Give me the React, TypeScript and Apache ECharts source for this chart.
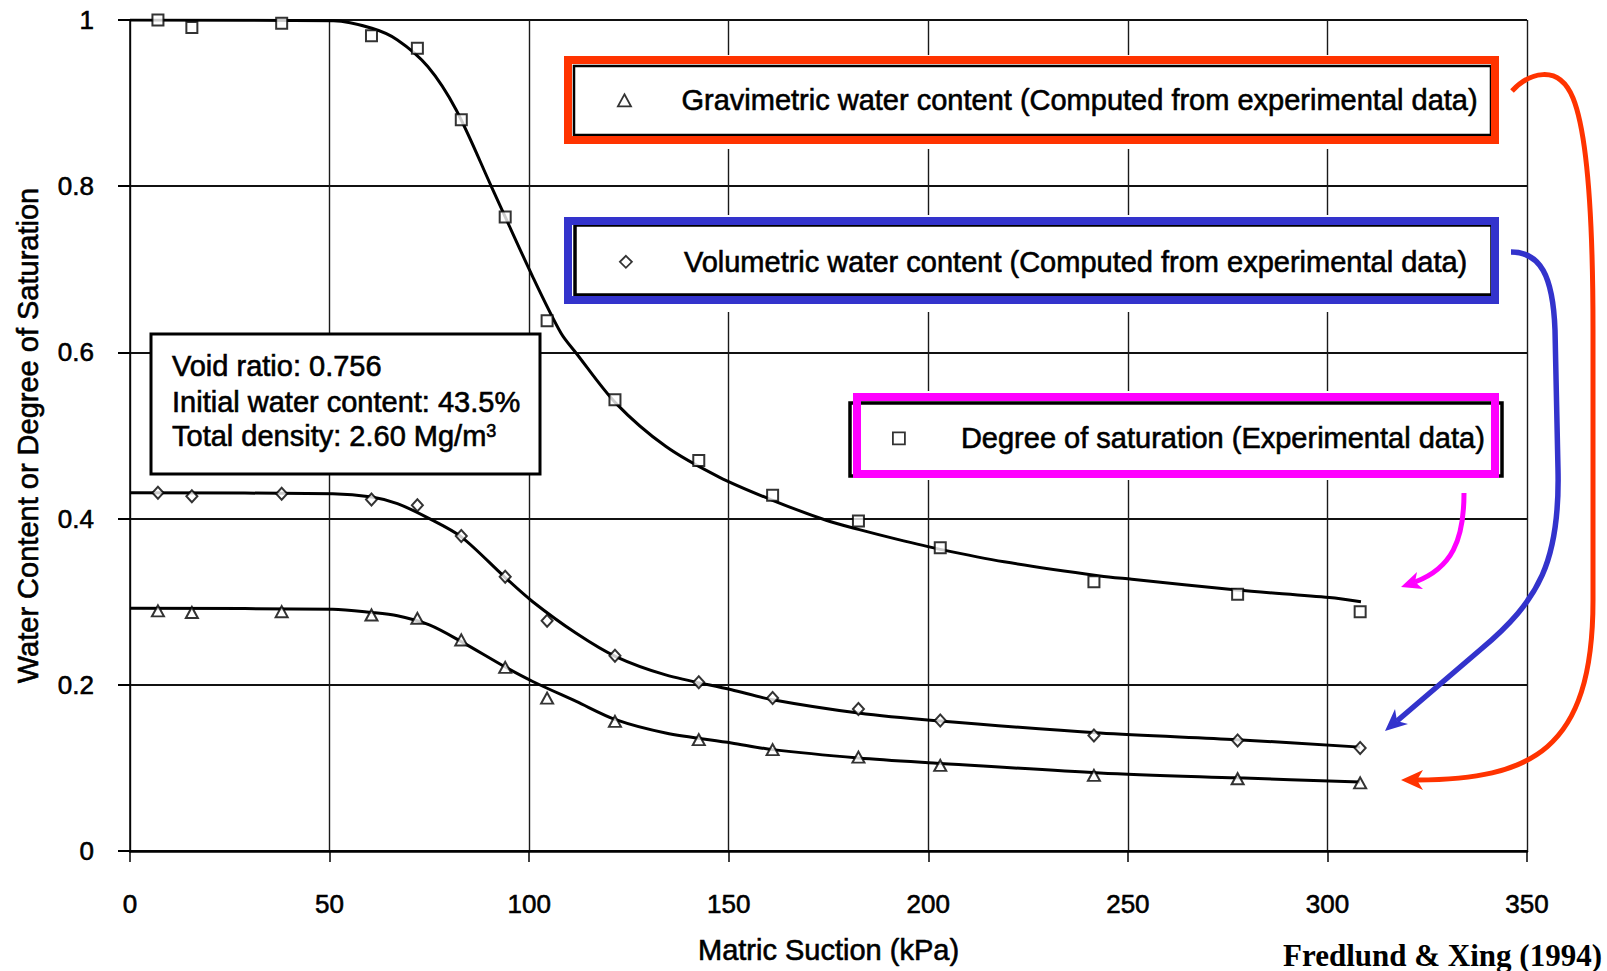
import React, { useEffect, useRef } from 'react';
import * as echarts from 'echarts';

// ---------- data ----------
const suction = [7, 15.5, 38, 60.5, 72, 83, 94, 104.5, 121.5, 142.5, 161, 182.5, 203, 241.5, 277.5, 308.2];
const degreeOfSaturation = [1.0, 0.991, 0.996, 0.981, 0.966, 0.88, 0.763, 0.638, 0.543, 0.47, 0.428, 0.397, 0.365, 0.324, 0.309, 0.288];
const volumetricWC = [0.431, 0.427, 0.43, 0.423, 0.416, 0.379, 0.33, 0.277, 0.235, 0.203, 0.184, 0.171, 0.157, 0.139, 0.133, 0.124];
const gravimetricWC = [0.289, 0.287, 0.288, 0.284, 0.28, 0.254, 0.221, 0.184, 0.156, 0.134, 0.122, 0.113, 0.103, 0.091, 0.087, 0.082];

// fitted curves (Fredlund & Xing)
const satFitX = [0, 51, 60.6, 67, 74.6, 81.7, 90.6, 100.9, 108, 111.8, 121.7, 134.2, 147.6, 161, 174.4, 182.5, 192.3, 203, 219, 243, 251, 277.3, 300.5, 308.4];
const satFitY = [1.0, 0.999, 0.99, 0.976, 0.944, 0.892, 0.799, 0.691, 0.623, 0.599, 0.539, 0.487, 0.45, 0.422, 0.398, 0.387, 0.375, 0.363, 0.348, 0.331, 0.327, 0.314, 0.305, 0.3];
const volFitX = [0, 50.8, 60.6, 67, 75, 83, 93.8, 100.9, 111.8, 121.7, 134.2, 150.7, 161, 182.5, 201.3, 243, 277.3, 308.2];
const volFitY = [0.431, 0.43, 0.426, 0.418, 0.4, 0.378, 0.33, 0.3, 0.262, 0.234, 0.212, 0.194, 0.182, 0.166, 0.157, 0.142, 0.134, 0.125];
const gravFitX = [0, 50.8, 60.6, 67, 75, 83, 93.8, 100.9, 111.8, 121.7, 134.2, 150.7, 161, 182.5, 201.3, 243, 277.3, 308.2];
const gravFitY = [0.292, 0.291, 0.287, 0.283, 0.272, 0.252, 0.222, 0.204, 0.18, 0.158, 0.142, 0.13, 0.122, 0.112, 0.106, 0.094, 0.088, 0.083];

const xTickValues = [0, 50, 100, 150, 200, 250, 300, 350];
const yTickValues = [0, 0.2, 0.4, 0.6, 0.8, 1];

const GRAV_NAME = 'Gravimetric water content (Computed from experimental data)';
const VOL_NAME = 'Volumetric water content (Computed from experimental data)';
const SAT_NAME = 'Degree of saturation (Experimental data)';

const infoLines = ['Void ratio: 0.756', 'Initial water content: 43.5%', 'Total density: 2.60 Mg/m{sup|3}'];
const sourceText = 'Fredlund & Xing (1994)';

// ---------- styling / annotation shapes ----------
const FONT = 'Liberation Sans';
const RED = '#FF3300';
const BLUE = '#3333CC';
const MAGENTA = '#FF00FF';
const INK = { textBorderColor: '#000', textBorderWidth: 0.6 };

const RED_ARROW = 'M1512,91 C1528,74 1558,62 1573,98 C1586,130 1593,210 1593,330 L1593,600 C1593,752 1530,779 1417,780';
const BLUE_ARROW = 'M1511,252 C1540,252 1553,275 1555,330 L1558,470 C1560,560 1540,600 1480,650 L1397,721';
const MAGENTA_ARROW = 'M1464,493 C1464,540 1452,568 1415,582';

echarts.graphic.registerShape('arrowRedLine', echarts.graphic.extendPath(RED_ARROW, {}));
echarts.graphic.registerShape('arrowBlueLine', echarts.graphic.extendPath(BLUE_ARROW, {}));
echarts.graphic.registerShape('arrowMagentaLine', echarts.graphic.extendPath(MAGENTA_ARROW, {}));

const TRI_ICON = 'path://M6,0L12,11L0,11Z';
const DIA_ICON = 'path://M6,0L12,6L6,12L0,6Z';
const SQ_ICON = 'path://M0,0L11,0L11,11L0,11Z';

const zip = (xs: number[], ys: number[]) => xs.map((x, i) => [x, ys[i]]);

function buildOption(): any {
  const fitLine = (name: string, xs: number[], ys: number[]) => ({
    type: 'line',
    name,
    data: zip(xs, ys),
    smooth: 0.3,
    symbol: 'none',
    showSymbol: false,
    silent: true,
    lineStyle: { color: '#000', width: 3 },
    z: 2,
  });
  const pointStyle = { color: '#fff', borderColor: '#000', borderWidth: 2 };
  // legend content bounding box starts at the icon itself, so "left" is the icon's left edge
  const legendBase = (name: string, icon: string, iconCenterX: number, iconCenterY: number, textStartX: number) => ({
    data: [{ name, icon }],
    left: iconCenterX - 6,
    top: iconCenterY - 14.5,
    orient: 'horizontal',
    itemWidth: (textStartX - iconCenterX - 5) * 2,
    itemHeight: 12,
    padding: 0,
    selectedMode: false,
    z: 20,
    textStyle: { fontSize: 29, lineHeight: 29, color: '#000', fontFamily: FONT, ...INK },
    itemStyle: { color: '#fff', borderColor: '#000', borderWidth: 1.8 },
  });

  const infoText = (text: string, y: number) => ({
    type: 'text',
    x: 172,
    y,
    z: 11,
    style: {
      text,
      fontSize: 29,
      fontFamily: FONT,
      fill: '#000',
      stroke: '#000',
      lineWidth: 0.6,
      align: 'left',
      verticalAlign: 'middle',
      textAlign: 'left',
      textVerticalAlign: 'middle',
      rich: { sup: { fontSize: 18, fontFamily: FONT, fill: '#000', verticalAlign: 'top' } },
    },
  });

  return {
    animation: false,
    backgroundColor: '#fff',
    textStyle: { fontFamily: FONT, color: '#000' },
    grid: { left: 130, right: 80, top: 20, bottom: 120, containLabel: false, outerBoundsMode: 'none' },
    xAxis: {
      type: 'value',
      min: xTickValues[0],
      max: xTickValues[xTickValues.length - 1],
      interval: xTickValues[1] - xTickValues[0],
      name: 'Matric Suction (kPa)',
      nameLocation: 'middle',
      nameGap: 84,
      nameTextStyle: { fontSize: 29, color: '#000', fontFamily: FONT, ...INK },
      axisLine: { show: true, onZero: false, lineStyle: { color: '#000', width: 2.5 } },
      axisTick: { show: true, inside: false, length: 11, lineStyle: { color: '#000', width: 1.5 } },
      axisLabel: { fontSize: 26, color: '#000', margin: 40, fontFamily: FONT, ...INK },
      splitLine: { show: true, lineStyle: { color: '#1a1a1a', width: 1.4 } },
    },
    yAxis: {
      type: 'value',
      min: yTickValues[0],
      max: yTickValues[yTickValues.length - 1],
      interval: yTickValues[1] - yTickValues[0],
      name: 'Water Content or Degree of Saturation',
      nameLocation: 'middle',
      nameGap: 88,
      nameTextStyle: { fontSize: 29, color: '#000', fontFamily: FONT, ...INK },
      axisLine: { show: true, onZero: false, lineStyle: { color: '#000', width: 1.5 } },
      axisTick: { show: true, inside: false, length: 12, lineStyle: { color: '#000', width: 2 } },
      axisLabel: { fontSize: 26, color: '#000', margin: 36, fontFamily: FONT, ...INK },
      splitLine: { show: true, lineStyle: { color: '#111', width: 2 } },
    },
    legend: [
      legendBase(GRAV_NAME, TRI_ICON, 623, 100, 680),
      legendBase(VOL_NAME, DIA_ICON, 625, 261.5, 683),
      legendBase(SAT_NAME, SQ_ICON, 898, 438, 960),
    ],
    series: [
      fitLine('Degree of saturation fit', satFitX, satFitY),
      fitLine('Volumetric water content fit', volFitX, volFitY),
      fitLine('Gravimetric water content fit', gravFitX, gravFitY),
      { type: 'scatter', name: SAT_NAME, data: zip(suction, degreeOfSaturation), symbol: 'rect', symbolSize: 11, itemStyle: pointStyle, z: 3 },
      { type: 'scatter', name: VOL_NAME, data: zip(suction, volumetricWC), symbol: 'diamond', symbolSize: [11, 12], itemStyle: pointStyle, z: 3 },
      { type: 'scatter', name: GRAV_NAME, data: zip(suction, gravimetricWC), symbol: 'triangle', symbolSize: [12, 11], itemStyle: pointStyle, z: 3 },
    ],
    graphic: [
      // white backgrounds of the legend boxes
      { type: 'rect', z: 9, shape: { x: 562, y: 55, width: 939, height: 94 }, style: { fill: '#fff' } },
      { type: 'rect', z: 9, shape: { x: 562, y: 215, width: 939, height: 97 }, style: { fill: '#fff' } },
      { type: 'rect', z: 9, shape: { x: 846, y: 391, width: 659, height: 89 }, style: { fill: '#fff' } },
      // original black legend frames
      { type: 'rect', z: 10, shape: { x: 574, y: 66, width: 917, height: 69 }, style: { fill: 'none', stroke: '#000', lineWidth: 2.5 } },
      { type: 'rect', z: 10, shape: { x: 575, y: 225, width: 917, height: 70 }, style: { fill: 'none', stroke: '#000', lineWidth: 3.5 } },
      { type: 'rect', z: 10, shape: { x: 850, y: 403, width: 652, height: 73 }, style: { fill: 'none', stroke: '#000', lineWidth: 3.5 } },
      // coloured highlight frames
      { type: 'rect', z: 11, shape: { x: 568, y: 60, width: 927, height: 80 }, style: { fill: 'none', stroke: RED, lineWidth: 8 } },
      { type: 'rect', z: 11, shape: { x: 568, y: 221, width: 927, height: 79 }, style: { fill: 'none', stroke: BLUE, lineWidth: 8 } },
      { type: 'rect', z: 11, shape: { x: 857, y: 397, width: 638, height: 77 }, style: { fill: 'none', stroke: MAGENTA, lineWidth: 8 } },
      // info box
      { type: 'rect', z: 10, shape: { x: 151, y: 334, width: 389, height: 140 }, style: { fill: '#fff', stroke: '#000', lineWidth: 3 } },
      infoText(infoLines[0], 366),
      infoText(infoLines[1], 402),
      infoText(infoLines[2], 436),
      // arrows
      { type: 'arrowRedLine', z: 12, style: { fill: 'none', stroke: RED, lineWidth: 5 } },
      { type: 'arrowBlueLine', z: 12, style: { fill: 'none', stroke: BLUE, lineWidth: 5.5 } },
      { type: 'arrowMagentaLine', z: 12, style: { fill: 'none', stroke: MAGENTA, lineWidth: 5 } },
      { type: 'polygon', z: 12, shape: { points: [[1401, 780], [1423, 770], [1417, 780], [1423, 790]] }, style: { fill: RED } },
      { type: 'polygon', z: 12, shape: { points: [[1385, 731], [1408, 724], [1397, 721], [1395, 709]] }, style: { fill: BLUE } },
      { type: 'polygon', z: 12, shape: { points: [[1401, 587], [1423, 589], [1415, 582], [1417, 572]] }, style: { fill: MAGENTA } },
      // source
      {
        type: 'text',
        x: 1602,
        y: 955,
        z: 11,
        style: {
          text: sourceText,
          fontSize: 31,
          fontWeight: 'bold',
          fontFamily: 'Liberation Serif',
          fill: '#000',
          align: 'right',
          verticalAlign: 'middle',
          textAlign: 'right',
          textVerticalAlign: 'middle',
        },
      },
    ],
  };
}

export default function App() {
  const ref = useRef<HTMLDivElement>(null);
  useEffect(() => {
    if (!ref.current) return;
    const chart = echarts.init(ref.current, null, { renderer: 'svg' });
    chart.setOption(buildOption());
    return () => chart.dispose();
  }, []);
  return (
    <div
      ref={ref}
      style={{ position: 'absolute', left: 0, top: 0, width: 1607, height: 971, background: '#fff' }}
    />
  );
}
